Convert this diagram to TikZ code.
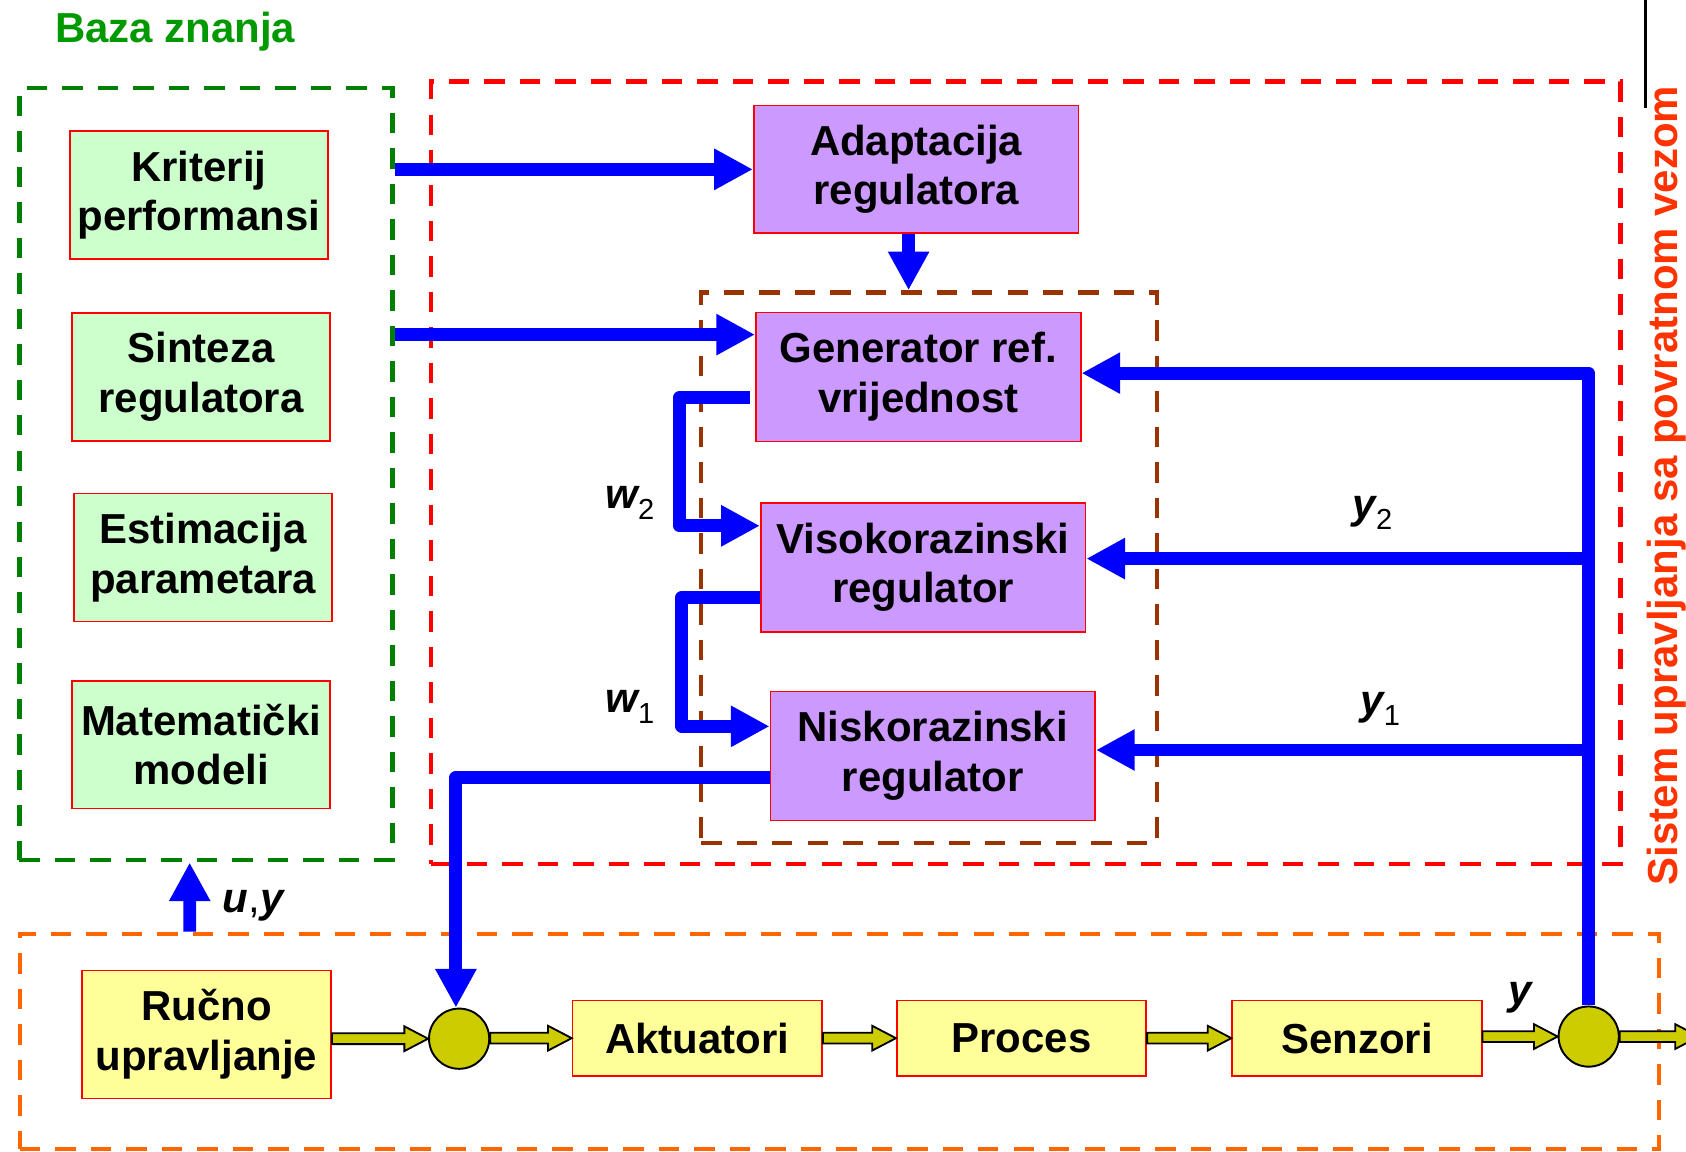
\documentclass[tikz,border=0pt]{standalone}
\usepackage{fontspec}
\setmainfont{Liberation Sans}
\usetikzlibrary{arrows.meta,calc}

\definecolor{boxred}{RGB}{255,0,0}
\definecolor{kbgreen}{RGB}{0,128,0}
\definecolor{titlegreen}{RGB}{0,153,0}
\definecolor{brownline}{RGB}{153,51,0}
\definecolor{orangeline}{RGB}{255,102,0}
\definecolor{sysred}{RGB}{255,51,0}
\definecolor{greenfill}{RGB}{204,255,204}
\definecolor{purplefill}{RGB}{204,153,255}
\definecolor{yellowfill}{RGB}{255,255,153}
\definecolor{sumfill}{RGB}{204,204,0}
\definecolor{sigblue}{RGB}{0,0,255}

% subscript index of a signal name
\newcommand\sigidx[1]{\raisebox{-10pt}{\normalfont\fontsize{27}{27}\selectfont #1}}

% hollow block arrow of the process chain, from point #1 to point #2
\newcommand\flowarrow[2]{%
  \draw[flow] let \p1=(#1), \p2=(#2) in
    (\x1,\y2+5pt) -- (\x2-22pt,\y2+5pt) -- (\x2-22pt,\y2+11.5pt) -- (\x2,\y2)
    -- (\x2-22pt,\y2-11.5pt) -- (\x2-22pt,\y2-5pt) -- (\x1,\y2-5pt) -- cycle;}

\tikzset{
  blk/.style={draw=boxred, line width=1.6pt, inner sep=0pt, align=center},
  gbox/.style={blk, fill=greenfill, minimum width=240pt, minimum height=119pt},
  pbox/.style={blk, fill=purplefill, minimum width=302pt, minimum height=120pt},
  ybox/.style={blk, fill=yellowfill, minimum width=232pt, minimum height=70pt},
  sumnode/.style={circle, draw=black, line width=1.8pt, fill=sumfill,
    minimum size=56pt, inner sep=0pt},
  frame/.style={line width=4.2pt, dash pattern=on 19pt off 14pt,
    inner sep=0pt, fill=none},
  sig/.style={draw=sigblue, line width=12pt, line join=round,
    -{Triangle[length=36pt,width=36pt]}},
  flow/.style={draw=black, line width=1.7pt, fill=sumfill, line join=miter},
  lbl/.style={font=\bfseries\itshape\fontsize{39}{46}\selectfont,
    inner sep=0pt, anchor=base west},
}

\begin{document}
\begin{tikzpicture}[x=1pt, y=-1pt, font=\bfseries\fontsize{39}{46}\selectfont]
\useasboundingbox (0,0) rectangle (1568,1071);

% group frames
\node[frame, draw=kbgreen, minimum width=347pt, minimum height=718pt]
  (kb) at (191.5,441) {};
\node[frame, draw=boxred, minimum width=1106pt, minimum height=727.5pt]
  (fb) at (954,439.75) {};
\node[frame, draw=brownline, minimum width=424pt, minimum height=512pt]
  (br) at (864,528) {};
\node[frame, draw=orangeline, minimum width=1524.4pt, minimum height=200pt]
  (ob) at (780.8,968.5) {};

% titles
\node[text=titlegreen, anchor=base west, inner sep=0pt] (title) at (51,39.7)
  {Baza znanja};
\node[text=sysred, rotate=90, anchor=base, inner sep=0pt] (systitle)
  at (1560,451.5) {Sistem upravljanja sa povratnom vezom};
\draw[black, line width=3pt] (1530,0) -- (1530,100.6);

% knowledge base
\node[gbox] (kp) at (185,181.5) {Kriterij\\performansi};
\node[gbox] (sr) at (187,350.5) {Sinteza\\regulatora};
\node[gbox] (ep) at (189,518.5) {Estimacija\\parametara};
\node[gbox] (mm) at (187,692.5) {Matematički\\modeli};

% regulator hierarchy
\node[pbox, minimum height=119pt] (ad) at (852,157.5) {Adaptacija\\regulatora};
\node[pbox] (gen) at (854,350.5) {Generator ref.\\vrijednost};
\node[pbox] (vis) at (858.5,527.5) {Visokorazinski\\regulator};
\node[pbox] (nis) at (867.5,703) {Niskorazinski\\regulator};

% process chain
\node[ybox, minimum height=119pt] (ru) at (192,962) {Ručno\\upravljanje};
\node[sumnode] (s1) at (427,966) {};
\node[ybox] (ak) at (648.5,965.5) {Aktuatori};
\node[ybox] (pr) at (950,965.5) {Proces};
\node[ybox] (se) at (1262,965.5) {Senzori};
\node[sumnode] (s2) at (1477.5,964) {};
\coordinate (exit) at (1580,964);

\flowarrow{ru.east}{s1.west}
\flowarrow{s1.east}{ak.west}
\flowarrow{ak.east}{pr.west}
\flowarrow{pr.east}{se.west}
\flowarrow{se.east}{s2.west}
\flowarrow{s2.east}{exit}

% signal connections
\coordinate (gin) at ($(gen.north west)+(0,21.5)$);
\coordinate (adout) at ($(ad.south)+(-7,0)$);
\coordinate (vr) at ($(vis.east)+(0,-8)$);
\coordinate (nr) at ($(nis.east)+(0,-5.5)$);
\coordinate (sdrop) at ($(s1.north)+(-3,0)$);

\draw[sig] (kb.east |- ad.west) -- (ad.west);
\draw[sig] (kb.east |- gin) -- (gin);
\draw[sig] (adout) -- (adout |- br.north);
\draw[sig] ($(gen.west)+(-5,19.5)$) -- ++(-65.5,0) |- ($(vis.west)+(0,-38.5)$);
\draw[sig] ($(vis.west)+(0,28)$) -- ++(-72.5,0) |- ($(nis.west)+(0,-27.5)$);
\draw[sig] ($(nis.west)+(0,20)$) -| (sdrop);
\draw[sig] (s2.north) |- ($(gen.east)+(0,-3.5)$);
\draw[sig] (s2.north |- vr) -- (vr);
\draw[sig] (s2.north |- nr) -- (nr);
\draw[sig] ($(ob.north west)+(160,0)$) -- ($(kb.south west)+(160.5,0)$);

% signal names
\node[lbl] (lw2) at (563,473) {w\sigidx{2}};
\node[lbl] (lw1) at (563,663) {w\sigidx{1}};
\node[lbl] (ly2) at (1258,482) {y\sigidx{2}};
\node[lbl] (ly1) at (1265,664.5) {y\sigidx{1}};
\node[lbl] (ly) at (1403,934) {y};
\node[lbl] (luy) at (207,849) {u{\normalfont,}y};
\end{tikzpicture}
\end{document}
